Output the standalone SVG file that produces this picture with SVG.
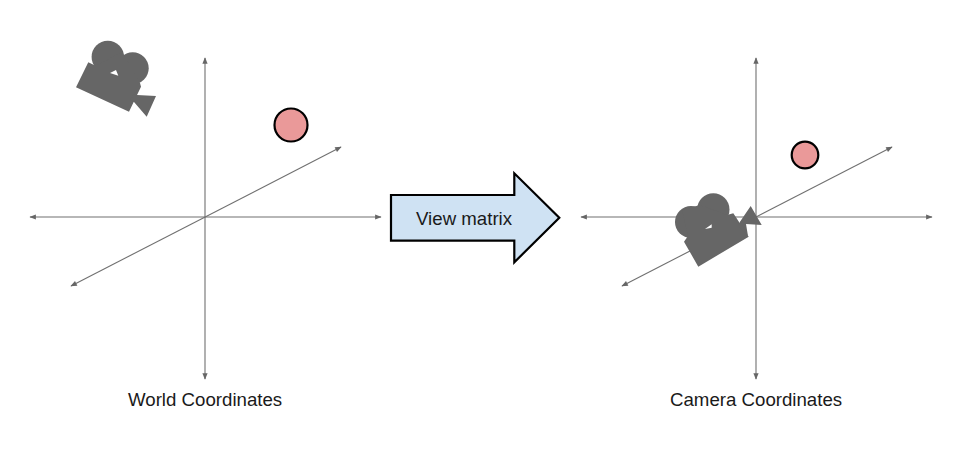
<svg xmlns="http://www.w3.org/2000/svg" width="953" height="457" viewBox="0 0 953 457">
<style>
.axis{stroke:#707070;stroke-width:1.1;fill:none;marker-start:url(#h);marker-end:url(#h)}
.cam{fill:#666}
.hole{fill:#fff}
.ball{fill:#ea9999;stroke:#000;stroke-width:2.2}
text{font-family:"Liberation Sans",Arial,sans-serif;font-size:18.67px;fill:#1a1a1a}
</style>
<defs><marker id="h" viewBox="0 0 10 8" refX="9" refY="4" markerWidth="7" markerHeight="5.2" markerUnits="userSpaceOnUse" orient="auto-start-reverse"><path d="M0 0L10 4L0 8Z" fill="#666"/></marker></defs>
<rect width="953" height="457" fill="#fff"/>
<g id="connectors">
<path class="axis" d="M30 217H381"/>
<path class="axis" d="M205 58V379"/>
<path class="axis" d="M71 286L341 147"/>
<path class="axis" d="M581 217H932"/>
<path class="axis" d="M756 58V379"/>
<path class="axis" d="M622 286L892 147"/>
</g>
<g id="world-camera">
<circle class="cam" cx="107.8" cy="57" r="16.2"/><circle class="cam" cx="132.7" cy="68.3" r="16"/>
<path class="cam" d="M96 66L88.3 62.3L76 87.3L129 111.7L141 86.7L140 83L122 52Z"/>
<path class="cam" d="M137 90L137 95L156 96L146.7 116.7L134 102L130 100Z"/>
<path class="hole" d="M110 73L116 70L118.3 75.7Z"/>
</g>
<g id="world-ball"><circle class="ball" cx="291" cy="125" r="16.5"/></g>
<g id="view-arrow">
<path d="M391 195H514.3V173.3L559.3 217.7L514.3 262.3V240.7H391Z" fill="#cfe2f3" stroke="#000" stroke-width="2.2" stroke-linejoin="miter"/>
<text x="416" y="225">View matrix</text>
</g>
<g id="camera-camera">
<circle class="cam" cx="691" cy="222" r="16"/><circle class="cam" cx="713.3" cy="209.5" r="16.2"/>
<path class="cam" d="M688 236L684 241.7L698.3 266.7L748.7 236.7L733.3 213.3L727 215L700 205L682 210Z"/>
<path class="cam" d="M750.7 206L761.7 225L746 224L748 236L738 226L740 221.7Z"/>
<path class="hole" d="M705 229L711.7 224.3L711.7 227.7Z"/>
</g>
<g id="camera-ball"><circle class="ball" cx="805" cy="155" r="13.3"/></g>
<g id="labels">
<text x="128" y="406">World Coordinates</text>
<text x="670" y="406">Camera Coordinates</text>
</g>
</svg>
